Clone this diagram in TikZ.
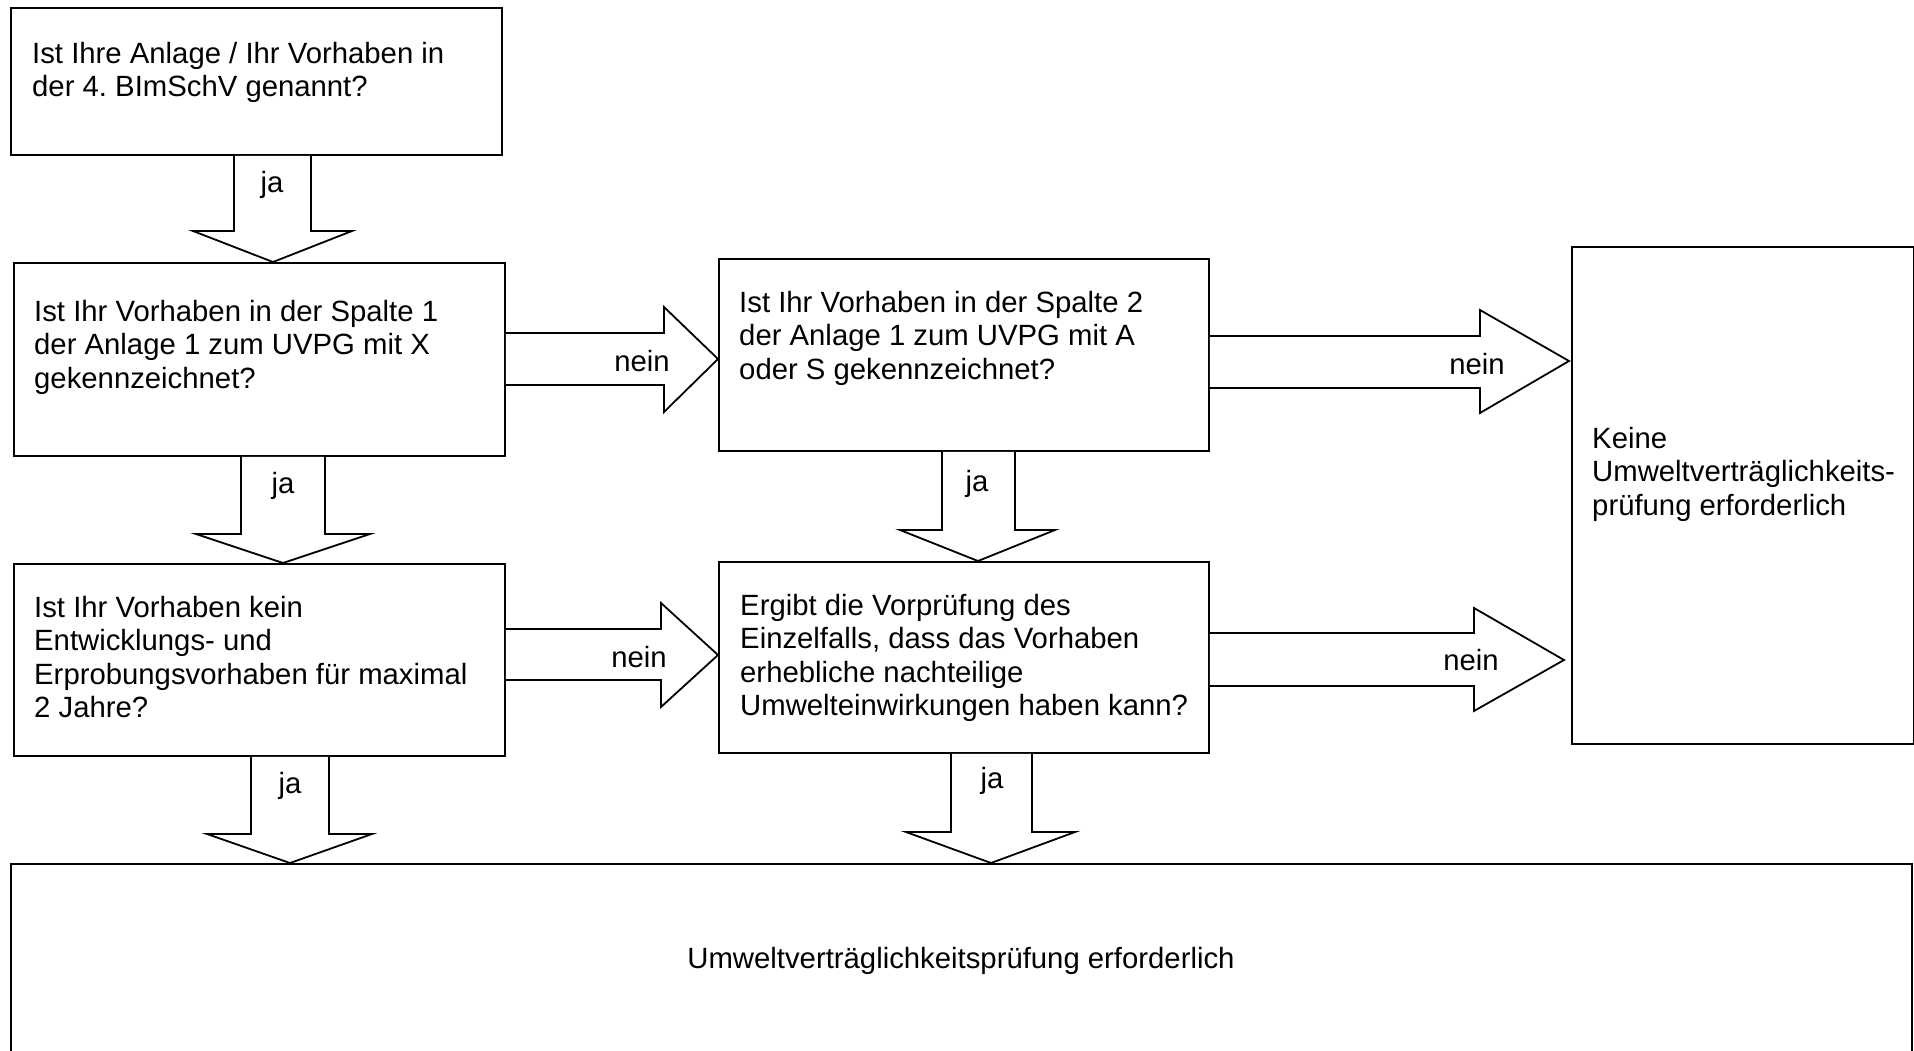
\documentclass[tikz,border=0pt]{standalone}
\usepackage{fontspec}
\setmainfont{Liberation Sans}
\usetikzlibrary{calc}
\frenchspacing
\tikzset{
  box/.style={draw=black, line width=1.8pt, anchor=north west, inner sep=0pt, fill=none},
  blk/.style={draw=black, line width=1.8pt, line join=miter, fill=white},
  txt/.style={font=\fontsize{29.3}{33.5}\selectfont, align=left, inner sep=0pt, anchor=north west},
  lbl/.style={font=\fontsize{29.3}{33.5}\selectfont, inner sep=0pt, anchor=base}
}
\begin{document}
\begin{tikzpicture}[x=1pt,y=-1pt]
\path[fill=white, use as bounding box] (0,0) rectangle (1914,1051);

% boxes
\node[box, minimum width=491pt, minimum height=147pt] (b1) at (10,7) {};
\node[box, minimum width=491pt, minimum height=193pt] (b2) at (13,262) {};
\node[box, minimum width=491pt, minimum height=192pt] (b3) at (13,563) {};
\node[box, minimum width=490pt, minimum height=192pt] (b4) at (718,258) {};
\node[box, minimum width=490pt, minimum height=191pt] (b5) at (718,561) {};
\node[box, minimum width=342pt, minimum height=497pt] (b7) at (1571,246) {};
\node[box, minimum width=1901pt, minimum height=300pt] (b6) at (10,863) {};

% texts (top = first baseline - 21)
\node[txt] (t1) at (32,42) {Ist Ihre Anlage / Ihr Vorhaben in\\der 4. BImSchV genannt?};
\node[txt] (t2) at (34,300) {Ist Ihr Vorhaben in der Spalte 1\\der Anlage 1 zum UVPG mit X\\gekennzeichnet?};
\node[txt] (t3) at (34,596) {Ist Ihr Vorhaben kein\\Entwicklungs- und\\Erprobungsvorhaben für maximal\\2 Jahre?};
\node[txt] (t4) at (739,291) {Ist Ihr Vorhaben in der Spalte 2\\der Anlage 1 zum UVPG mit A\\oder S gekennzeichnet?};
\node[txt] (t5) at (740,594) {Ergibt die Vorprüfung des\\Einzelfalls, dass das Vorhaben\\erhebliche nachteilige\\Umwelteinwirkungen haben kann?};
\node[txt] (t7) at (1592,427) {Keine\\Umweltverträglichkeits-\\prüfung erforderlich};
\node[lbl] (t6) at (961,968) {Umweltverträglichkeitsprüfung erforderlich};

% down block arrows
\draw[blk] (234,0 |- b1.south) -- (234,231) -- (193,231) -- (b2.north -| 273,0) -- (352,231) -- (311,231) -- (311,0 |- b1.south);
\draw[blk] (241,0 |- b2.south) -- (241,534) -- (196,534) -- (b3.north -| 283,0) -- (370,534) -- (325,534) -- (325,0 |- b2.south);
\draw[blk] (251,0 |- b3.south) -- (251,834) -- (207,834) -- (b6.north -| 290,0) -- (372,834) -- (329,834) -- (329,0 |- b3.south);
\draw[blk] (942,0 |- b4.south) -- (942,530) -- (900,530) -- (b5.north -| 978,0) -- (1055,530) -- (1015,530) -- (1015,0 |- b4.south);
\draw[blk] (951,0 |- b5.south) -- (951,832) -- (906,832) -- (b6.north -| 991,0) -- (1075,832) -- (1032,832) -- (1032,0 |- b5.south);

% right block arrows
\draw[blk] (b2.east |- 0,333) -- (664,333) -- (664,307) -- (b4.west |- 0,359) -- (664,412) -- (664,385) -- (b2.east |- 0,385);
\draw[blk] (b4.east |- 0,336) -- (1480,336) -- (1480,310) -- (1569,361) -- (1480,413) -- (1480,388) -- (b4.east |- 0,388);
\draw[blk] (b3.east |- 0,629) -- (661,629) -- (661,603) -- (b5.west |- 0,655) -- (661,707) -- (661,680) -- (b3.east |- 0,680);
\draw[blk] (b5.east |- 0,633) -- (1474,633) -- (1474,608) -- (1564,660) -- (1474,711) -- (1474,686) -- (b5.east |- 0,686);

% labels
\node[lbl] (ja1) at (272,193) {ja};
\node[lbl] (ja2) at (283,493) {ja};
\node[lbl] (ja3) at (290,793) {ja};
\node[lbl] (ja4) at (977,491) {ja};
\node[lbl] (ja5) at (992,788) {ja};
\node[lbl] (n1) at (642,371) {nein};
\node[lbl] (n2) at (1477,374) {nein};
\node[lbl] (n3) at (639,667) {nein};
\node[lbl] (n4) at (1471,670) {nein};
\end{tikzpicture}
\end{document}
